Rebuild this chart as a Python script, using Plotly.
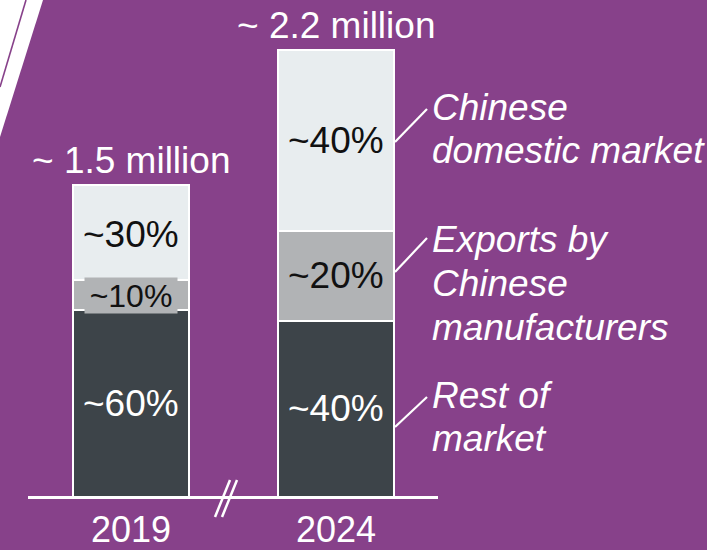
import plotly.graph_objects as go

# ---- data (millions of vehicles) ----
years = ["2019", "2024"]
rest_of_market = [0.91, 0.86]
exports_chinese = [0.15, 0.44]
chinese_domestic = [0.46, 0.88]
rest_labels = ["~60%", "~40%"]
export_labels = ["~10%", "~20%"]
domestic_labels = ["~30%", "~40%"]
total_labels = ["~ 1.5 million", "~ 2.2 million"]
legend_lines = {
    "domestic": ["Chinese", "domestic market"],
    "exports": ["Exports by", "Chinese", "manufacturers"],
    "rest": ["Rest of", "market"],
}

W, H = 707, 550
PURPLE = "#87418A"
LIGHT = "#E8EDEF"
GREY = "#B1B3B5"
DARK = "#3D4449"
FONT = "Arial, Liberation Sans, sans-serif"

# axis scale: pixels per unit
XS, X0 = 205.0, 131.0
YS, Y0 = 205.0, 497.0


def px(x, y):
    return x / W, 1 - y / H


fig = go.Figure()
for vals, col in [(rest_of_market, DARK), (exports_chinese, GREY), (chinese_domestic, LIGHT)]:
    fig.add_trace(go.Bar(
        x=years, y=vals, width=116 / XS,
        marker=dict(color=col, line=dict(color="white", width=2.5)),
        hoverinfo="skip", showlegend=False,
    ))

ann = []
for i, yr in enumerate(years):
    r, e, d = rest_of_market[i], exports_chinese[i], chinese_domestic[i]
    # rest
    ann.append(dict(x=i, y=r / 2, text=rest_labels[i], showarrow=False,
                    font=dict(size=37, color="white", family=FONT), yanchor="middle"))
    # exports
    if e < 0.3:
        ann.append(dict(x=i, y=r + e / 2, text=export_labels[i], showarrow=False,
                        font=dict(size=32, color="#111111", family=FONT), yanchor="middle",
                        bgcolor=GREY, width=92, height=35, borderpad=0))
    else:
        ann.append(dict(x=i, y=r + e / 2, text=export_labels[i], showarrow=False,
                        font=dict(size=37, color="#111111", family=FONT), yanchor="middle"))
    # domestic
    ann.append(dict(x=i, y=r + e + d / 2, text=domestic_labels[i], showarrow=False,
                    font=dict(size=37, color="#111111", family=FONT), yanchor="middle",
                    yshift=-2 if d < 0.6 else 0))
    # totals
    ann.append(dict(x=i, y=r + e + d, text=total_labels[i], showarrow=False,
                    font=dict(size=37, color="white", family=FONT), yanchor="bottom", yshift=2))

# year labels
for i, yr in enumerate(years):
    ann.append(dict(x=i, y=0, text=yr, showarrow=False, yanchor="top", yshift=-10,
                    font=dict(size=36, color="white", family=FONT)))

# right-hand labels
def add_lines(lines, y_first):
    for k, t in enumerate(lines):
        xx, yy = px(430, y_first + 43.5 * k)
        ann.append(dict(xref="paper", yref="paper", x=xx, y=yy, text="<i>" + t + "</i>",
                        showarrow=False, xanchor="left", yanchor="middle",
                        font=dict(size=37, color="white", family=FONT)))

add_lines(legend_lines["domestic"], 107)
add_lines(legend_lines["exports"], 240)
add_lines(legend_lines["rest"], 395)

shapes = []


def seg(x1, y1, x2, y2, w=2.5, color="white"):
    a, b = px(x1, y1)
    c, d = px(x2, y2)
    shapes.append(dict(type="line", xref="paper", yref="paper", x0=a, y0=b, x1=c, y1=d,
                       line=dict(color=color, width=w)))

# baseline
seg(28, 497.5, 438, 497.5, w=3)
# axis break
seg(215, 517, 230, 480, w=2.5)
seg(222, 517, 237, 480, w=2.5)
# leader lines
seg(395, 142, 427, 109, w=2.2)
seg(395, 272, 427, 238, w=2.2)
seg(395, 427, 427, 397, w=2.2)

# decorative white wedge top-left
p = [px(0, 0), px(43, 0), px(0, 137)]
path = "M {} {} L {} {} L {} {} Z".format(p[0][0], p[0][1], p[1][0], p[1][1], p[2][0], p[2][1])
shapes.append(dict(type="path", xref="paper", yref="paper", path=path,
                   fillcolor="white", line=dict(width=0)))
seg(26, 0, 0, 87, w=1.6, color=PURPLE)

fig.update_layout(
    width=W, height=H, margin=dict(l=0, r=0, t=0, b=0, pad=0),
    paper_bgcolor=PURPLE, plot_bgcolor=PURPLE,
    barmode="stack", bargap=0,
    xaxis=dict(type="category", range=[-X0 / XS, (W - X0) / XS], visible=False, fixedrange=True),
    yaxis=dict(range=[-(H - Y0) / YS, Y0 / YS], visible=False, fixedrange=True),
    annotations=ann, shapes=shapes,
    font=dict(family=FONT),
)

fig.write_html("out.html", config={"displayModeBar": False},
               post_script="document.body.style.margin='0';document.body.style.overflow='hidden';")
